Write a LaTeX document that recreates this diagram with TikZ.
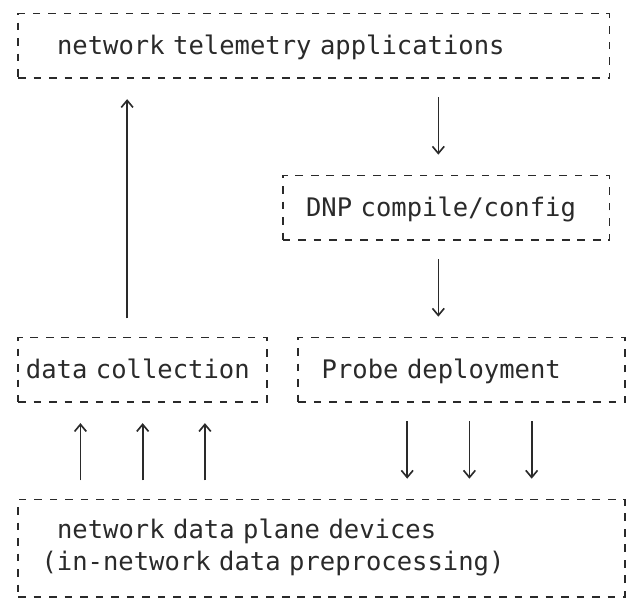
\documentclass[tikz,border=0pt]{standalone}
\usepackage{fontspec}
\usepackage{tikz}
\usetikzlibrary{arrows.meta}

\newfontfamily\dnpmono{DejaVu Sans Mono}
\definecolor{asciigray}{HTML}{2A2A2A}
\newcommand{\colw}{0.4668cm}
\newcommand{\rowh}{0.972cm}

\begin{document}
\begin{tikzpicture}[x=\colw,y=-\rowh,->,>={Straight Barb[length=6pt,width=10pt]},
                    box/.style={draw=asciigray,text=asciigray,-,line width=1.4pt,
                      dash pattern=on 6.5pt off 6.74pt,inner sep=0pt,minimum height=2*\rowh,
                      align=left,text height=18.6pt,text depth=3.2pt,
                      font=\dnpmono\fontsize{21.8pt}{27.56pt}\selectfont},
                    flow/.style={color=asciigray,line width=1.4pt,shorten <=0.55cm,shorten >=0.6cm}]

  \useasboundingbox (-1.1697,-0.4167) rectangle (39.383,18.318);

  \node[box,text width=33*\colw,inner xsep=2.5*\colw] (apps) at (19,1) {network telemetry applications};
  \node[box,text width=18*\colw,inner xsep=1.5*\colw] (dnp) at (27.5,6) {DNP compile/config};
  \node[box,text width=15*\colw,inner xsep=0.5*\colw] (collect) at (8,11) {data collection};
  \node[box,text width=18*\colw,inner xsep=1.5*\colw] (probe) at (28.5,11) {Probe deployment};
  \node[box,minimum height=3*\rowh,text width=36*\colw,inner xsep=1.5*\colw,text height=16.6pt,text depth=32.76pt]
    (devices) at (19.5,16.5) {\hspace*{\colw}network data plane devices\\(in-network data preprocessing)};

  \coordinate (c7) at ([xshift=-\colw]collect.north);
  \coordinate (c27) at ([xshift=-0.5*\colw]dnp.north);
  \coordinate (c4) at ([xshift=-4*\colw]collect.south);
  \coordinate (c8) at (collect.south);
  \coordinate (c12) at ([xshift=4*\colw]collect.south);
  \coordinate (c25) at ([xshift=-3.5*\colw]probe.south);
  \coordinate (c29) at ([xshift=0.5*\colw]probe.south);
  \coordinate (c33) at ([xshift=4.5*\colw]probe.south);

  \path[flow]
    (c7) edge (c7 |- apps.south)
    (c27 |- apps.south) edge (c27)
    (c27 |- dnp.south) edge (c27 |- probe.north)
    (c4 |- devices.north) edge (c4)
    (c8 |- devices.north) edge (c8)
    (c12 |- devices.north) edge (c12)
    (c25) edge (c25 |- devices.north)
    (c29) edge (c29 |- devices.north)
    (c33) edge (c33 |- devices.north);

\end{tikzpicture}
\end{document}
